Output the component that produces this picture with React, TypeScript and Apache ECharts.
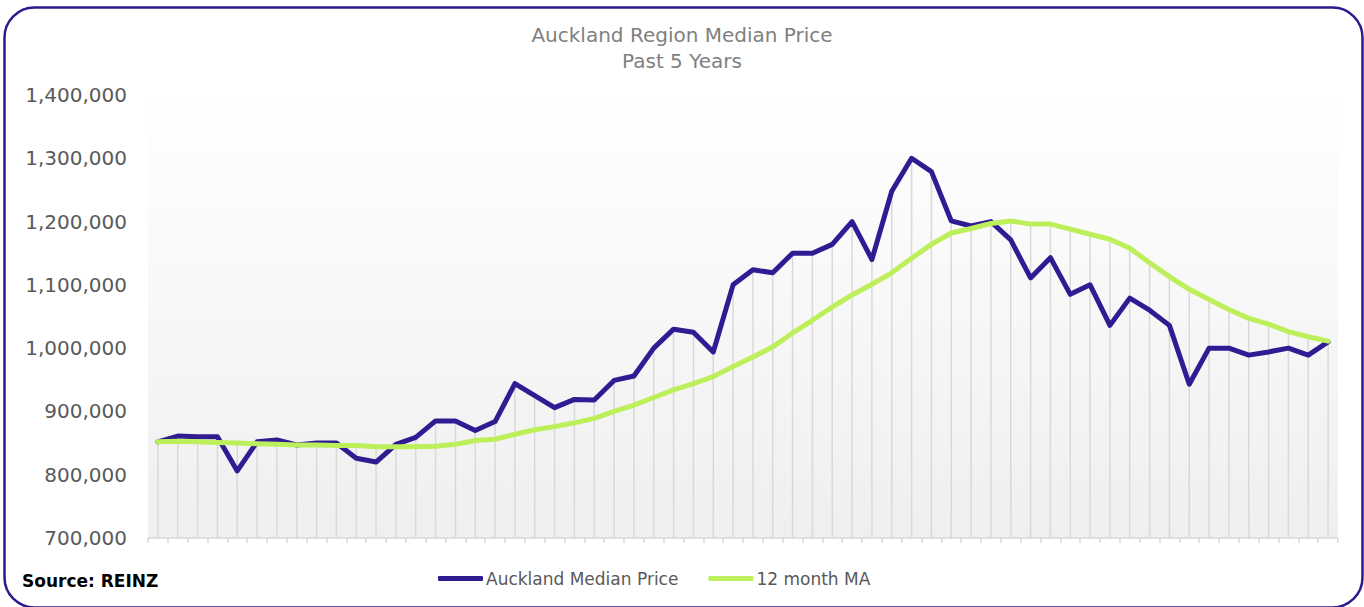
import React, { useEffect, useRef } from "react";
import * as echarts from "echarts";

const categories: string[] = Array.from({ length: 60 }, (_, i) => String(i + 1));

const medianPrice: number[] = [
  852000, 861000, 860000, 860000, 806000, 852000, 855000, 847000, 850000, 850000,
  826000, 820000, 848000, 859000, 885000, 885000, 870000, 884000, 944000, 925000,
  906000, 919000, 918000, 949000, 956000, 1000000, 1030000, 1025000, 994000, 1100000,
  1124000, 1119000, 1150000, 1150000, 1164000, 1200000, 1140000, 1248000, 1300000, 1279000,
  1201000, 1193000, 1200000, 1171000, 1111000, 1143000, 1085000, 1100000, 1036000, 1079000,
  1060000, 1036000, 943000, 1000000, 1000000, 989000, 994000, 1000000, 989000, 1010000,
];

const movingAverage: number[] = [
  852000, 853000, 852000, 851000, 850000, 849000, 848000, 847000, 847000, 846000,
  846000, 844000, 844000, 844000, 845000, 848000, 854000, 856000, 864000, 871000,
  876000, 882000, 889000, 900000, 910000, 922000, 934000, 944000, 955000, 971000,
  986000, 1002000, 1024000, 1044000, 1065000, 1084000, 1101000, 1119000, 1142000, 1164000,
  1182000, 1189000, 1197000, 1201000, 1196000, 1196000, 1188000, 1180000, 1172000, 1158000,
  1135000, 1113000, 1093000, 1077000, 1061000, 1047000, 1038000, 1026000, 1018000, 1011000,
];

const seriesNames: string[] = ["Auckland Median Price", "12 month MA"];
const titleLines: string[] = ["Auckland Region Median Price", "Past 5 Years"];
const sourceText = "Source: REINZ";
const yMin = 700000;
const yMax = 1400000;
const yStep = 100000;

const PURPLE = "#311b92";
const GREEN = "#bdef5b";
const FONT = "DejaVu Sans";

export default function App() {
  const ref = useRef<HTMLDivElement>(null);
  useEffect(() => {
    document.body.style.margin = "0";
    const chart = echarts.init(ref.current!, null, { renderer: "svg" });
    const dropLines = medianPrice.map((v, i) => Math.max(v, movingAverage[i]));
    chart.setOption({
      animation: false,
      backgroundColor: "#ffffff",
      title: {
        text: titleLines.join("\n"),
        left: "center",
        top: 17,
        textStyle: {
          fontFamily: FONT,
          fontSize: 20,
          fontWeight: "normal",
          color: "#7f7f7f",
          lineHeight: 26,
        },
      },
      legend: {
        left: 433,
        top: 565,
        data: seriesNames,
        icon: "roundRect",
        itemWidth: 45,
        itemHeight: 5,
        itemGap: 30,
        textStyle: { fontFamily: FONT, fontSize: 17, color: "#595959", padding: [0, 0, 0, -2] },
      },
      grid: {
        left: 148,
        right: 26,
        top: 95,
        bottom: 69,
        show: true,
        borderWidth: 0,
        backgroundColor: {
          type: "linear",
          x: 0,
          y: 0,
          x2: 0,
          y2: 1,
          colorStops: [
            { offset: 0, color: "#ffffff" },
            { offset: 1, color: "#efefef" },
          ],
        },
      },
      xAxis: {
        type: "category",
        data: categories,
        boundaryGap: true,
        axisLine: { lineStyle: { color: "#d9d9d9", width: 1.5 } },
        axisTick: { show: true, interval: 0, length: 5, lineStyle: { color: "#d9d9d9", width: 1.5 } },
        axisLabel: { show: false },
        splitLine: { show: false },
      },
      yAxis: {
        type: "value",
        min: yMin,
        max: yMax,
        interval: yStep,
        axisLine: { show: false },
        axisTick: { show: false },
        splitLine: { show: false },
        axisLabel: {
          margin: 21,
          fontFamily: FONT,
          fontSize: 20,
          color: "#595959",
          formatter: (v: number) => v.toLocaleString("en-US"),
        },
      },
      graphic: [
        {
          type: "rect",
          shape: { x: 4.5, y: 7.5, width: 1358, height: 600, r: 30 },
          style: { fill: "none", stroke: "#2e1a8e", lineWidth: 2.5 },
          silent: true,
          z: 100,
        },
        {
          type: "text",
          left: 22,
          top: 572,
          style: {
            text: sourceText,
            fontFamily: FONT,
            fontSize: 17,
            fontWeight: "bold",
            fill: "#000000",
          },
        },
      ],
      series: [
        {
          name: "drop",
          type: "bar",
          data: dropLines,
          barWidth: 1.5,
          itemStyle: { color: "#d9d9d9" },
          silent: true,
          z: 1,
        },
        {
          name: seriesNames[0],
          type: "line",
          data: medianPrice,
          symbol: "none",
          lineStyle: { color: PURPLE, width: 5, join: "round", cap: "round" },
          itemStyle: { color: PURPLE },
          z: 3,
        },
        {
          name: seriesNames[1],
          type: "line",
          data: movingAverage,
          symbol: "none",
          lineStyle: { color: GREEN, width: 5, join: "round", cap: "round" },
          itemStyle: { color: GREEN },
          z: 4,
        },
      ],
    });
    return () => chart.dispose();
  }, []);
  return (
    <div
      ref={ref}
      style={{ position: "fixed", left: 0, top: 0, width: 1364, height: 607 }}
    />
  );
}
